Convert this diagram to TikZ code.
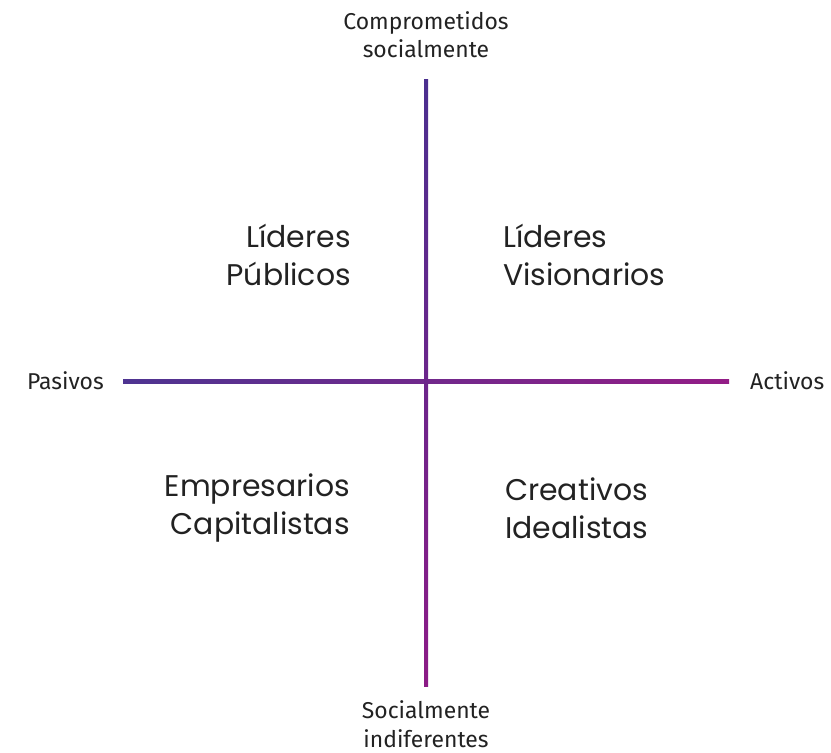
\documentclass[tikz,border=0pt]{standalone}
\usepackage{fontspec}
\setmainfont{Fira Sans}
\newfontfamily\quadfont{Poppins}
\definecolor{cTop}{HTML}{4B2F8F}
\definecolor{cBot}{HTML}{8C1B86}
\definecolor{cLeft}{HTML}{4E3491}
\definecolor{cRight}{HTML}{931D86}
\definecolor{txt}{HTML}{222222}
\begin{document}
\begin{tikzpicture}[x=1bp,y=-1bp,
  axislabel/.style={font=\fontsize{23}{28.5}\selectfont, text=txt, align=center, inner sep=0pt},
  quadlabel/.style={font=\quadfont\fontsize{30}{38}\selectfont, text=txt, inner sep=0pt}]
\useasboundingbox (0,0) rectangle (831,753);
% axes
\shade[top color=cTop, bottom color=cBot] (424,79) rectangle (428,686);
\shade[left color=cLeft, right color=cRight] (123,379) rectangle (729,383);
\shade[top color=cTop!50!cBot, bottom color=cTop!50!cBot] (424,379) rectangle (428,383);
% axis labels
\node[axislabel] (top) at (426,35) {Comprometidos\\socialmente};
\node[axislabel] (bot) at (426,724) {Socialmente\\indiferentes};
\node[axislabel, anchor=east] (left) at (104,381) {Pasivos};
\node[axislabel, anchor=west] (right) at (750,381) {Activos};
% quadrant labels
\node[quadlabel, align=right, anchor=east] (q1) at (351,255) {Líderes\\Públicos};
\node[quadlabel, align=left, anchor=west] (q2) at (503,255) {Líderes\\Visionarios};
\node[quadlabel, align=right, anchor=east] (q3) at (350,508) {Empresarios\\Capitalistas};
\node[quadlabel, align=left, anchor=west] (q4) at (505,508) {Creativos\\Idealistas};
\end{tikzpicture}
\end{document}
